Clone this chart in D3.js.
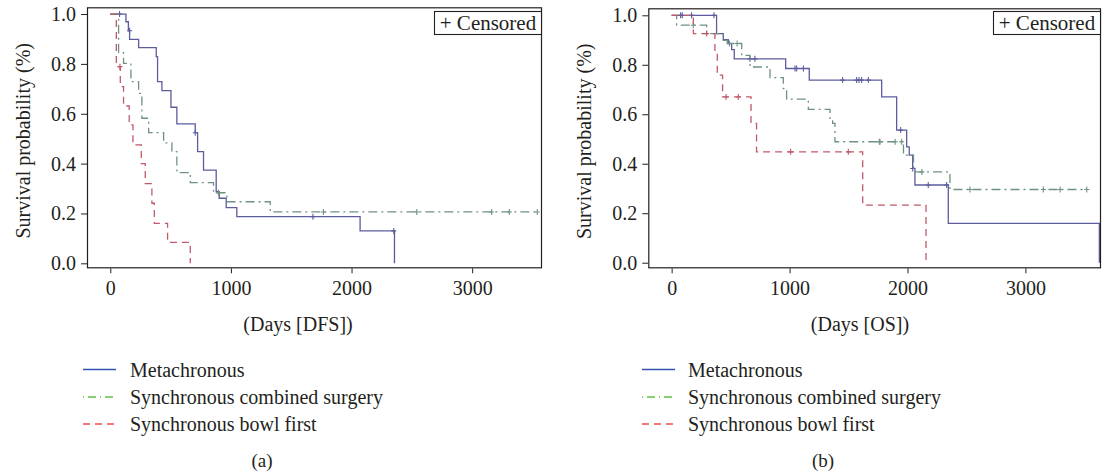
<!DOCTYPE html>
<html><head><meta charset="utf-8">
<script src="https://cdn.jsdelivr.net/npm/d3@7"></script>
<style>
body{margin:0;background:#fff}
svg{display:block}
text{font-family:"Liberation Serif","DejaVu Serif",serif;fill:#231f20}
</style>
</head><body><svg id="c" width="1102" height="475"></svg>
<script>
// ---------- data ----------
const seriesNames = ["Metachronous", "Synchronous combined surgery", "Synchronous bowl first"];
const xTickValues = [0, 1000, 2000, 3000];
const yTickValues = [0.0, 0.2, 0.4, 0.6, 0.8, 1.0];
const panelLabels = ["(a)", "(b)"];
const xTitles = ["(Days [DFS])", "(Days [OS])"];
const yTitle = "Survival probability (%)";
const censorLabel = "+ Censored";

// DFS (panel a): step points [day, survival after that day]
const dfsMeta = [[0,1],[130,0.969],[150,0.933],[160,0.898],[235,0.865],[381,0.829],[392,0.729],[428,0.693],[503,0.626],[552,0.559],[704,0.524],[724,0.448],[773,0.374],[878,0.287],[903,0.261],[961,0.223],[1049,0.187],[2071,0.130],[2356,0.0]];
const dfsMetaCens = [[77,1.0],[160,0.933],[704,0.524],[1680,0.187],[2350,0.130]];
const dfsComb = [[0,1],[69,0.845],[110,0.802],[171,0.729],[235,0.682],[262,0.582],[318,0.524],[442,0.483],[511,0.448],[552,0.364],[663,0.324],[856,0.283],[967,0.247],[1326,0.206],[3540,0.206]];
const dfsCombCens = [[897,0.283],[1767,0.206],[2541,0.206],[3162,0.206],[3308,0.206],[3540,0.206]];
const dfsBowl = [[0,1],[50,0.789],[83,0.709],[110,0.631],[157,0.555],[188,0.475],[257,0.400],[290,0.320],[345,0.241],[365,0.160],[475,0.084],[663,0.0]];
const dfsBowlCens = [[80,0.789]];

// OS (panel b)
const osMeta = [[0,1],[381,0.926],[438,0.902],[480,0.886],[509,0.861],[531,0.824],[967,0.785],[1167,0.738],[1781,0.670],[1908,0.536],[1993,0.468],[2015,0.435],[2044,0.381],[2063,0.314],[2346,0.159],[3627,0.0]];
const osMetaCens = [[76,1],[90,1],[169,1],[359,1],[664,0.824],[706,0.824],[1046,0.785],[1060,0.785],[1117,0.785],[1450,0.738],[1569,0.738],[1589,0.738],[1611,0.738],[1668,0.738],[1942,0.536],[2044,0.381],[2176,0.314],[2332,0.314]];
const osComb = [[0,1],[42,0.960],[297,0.926],[438,0.899],[472,0.886],[594,0.838],[664,0.791],[834,0.748],[947,0.704],[975,0.661],[1159,0.620],[1343,0.583],[1365,0.563],[1385,0.489],[1966,0.435],[2051,0.367],[2360,0.296],[3520,0.296]];
const osCombCens = [[183,0.960],[490,0.886],[555,0.886],[1761,0.489],[1767,0.489],[1895,0.489],[1951,0.489],[2122,0.367],[2530,0.296],[3152,0.296],[3294,0.296],[3520,0.296]];
const osBowl = [[0,1],[184,0.926],[367,0.845],[387,0.758],[432,0.670],[673,0.563],[720,0.448],[1620,0.233],[2157,0.0]];
const osBowlCens = [[297,0.926],[461,0.670],[565,0.670],[1009,0.448],[1498,0.448]];

// ---------- styles ----------
const plotColors = ["#5c5c9e", "#6f9183", "#c05a6a"];
const legendColors = ["#3553b5", "#5cc043", "#ee4b4b"];
const dashes = [null, "9,4,2,4", "7,5"];

const panels = [
  {frame:{x0:87,x1:542,y0:7.3,y1:268.3}, xDom:[-193,3579], yDom:[-0.02,1.027],
   curves:[[dfsMeta,dfsMetaCens],[dfsComb,dfsCombCens],[dfsBowl,dfsBowlCens]],
   xTitleX:298, yTitleX:24, legLine:[83,116], legText:130, labelX:262},
  {frame:{x0:648.3,x1:1101,y0:8.3,y1:268.3}, xDom:[-198,3641], yDom:[-0.0226,1.0283],
   curves:[[osMeta,osMetaCens],[osComb,osCombCens],[osBowl,osBowlCens]],
   xTitleX:860, yTitleX:585, legLine:[642,675], legText:688, labelX:823}
];

const svg = d3.select("#c");
const fs = 20;

panels.forEach((p, pi) => {
  const f = p.frame;
  const x = d3.scaleLinear().domain(p.xDom).range([f.x0, f.x1]);
  const y = d3.scaleLinear().domain(p.yDom).range([f.y1, f.y0]);
  const g = svg.append("g");

  // curves
  const line = d3.line().x(d => x(d[0])).y(d => y(d[1])).curve(d3.curveStepAfter);
  p.curves.forEach((c, ci) => {
    g.append("path").attr("d", line(c[0])).attr("fill", "none")
      .attr("stroke", plotColors[ci]).attr("stroke-width", 1.3)
      .attr("stroke-dasharray", dashes[ci]);
    g.selectAll(null).data(c[1]).enter().append("path")
      .attr("d", d => `M${x(d[0])-2.5},${y(d[1])}h5M${x(d[0])},${y(d[1])-3}v6`)
      .attr("stroke", plotColors[ci]).attr("stroke-width", 1.1).attr("fill", "none");
  });

  // frame
  g.append("rect").attr("x", f.x0+0.5).attr("y", f.y0+0.5)
    .attr("width", f.x1-f.x0-1).attr("height", f.y1-f.y0-1)
    .attr("fill", "none").attr("stroke", "#231f20").attr("stroke-width", 1.2);

  // axes
  const xAxis = d3.axisBottom(x).tickValues(xTickValues).tickSize(5).tickSizeOuter(0).tickPadding(8).tickFormat(d3.format("d"));
  const gx = g.append("g").attr("transform", `translate(0,${f.y1})`).call(xAxis);
  gx.select(".domain").remove();
  gx.selectAll("line").attr("stroke", "#231f20");
  gx.selectAll("text").attr("font-size", fs).attr("font-family", "Liberation Serif").attr("fill", "#231f20");

  const yAxis = d3.axisLeft(y).tickValues(yTickValues).tickSize(6).tickPadding(5).tickFormat(d3.format(".1f"));
  const gy = g.append("g").attr("transform", `translate(${f.x0},0)`).call(yAxis);
  gy.select(".domain").remove();
  gy.selectAll("line").attr("stroke", "#231f20");
  gy.selectAll("text").attr("font-size", fs).attr("font-family", "Liberation Serif").attr("fill", "#231f20");

  // censored box
  const bw = 107, bh = 23;
  g.append("rect").attr("x", f.x1 - bw - 0.5).attr("y", 11.5).attr("width", bw).attr("height", bh)
    .attr("fill", "#fff").attr("stroke", "#231f20").attr("stroke-width", 1.1);
  g.append("text").attr("x", f.x1 - bw/2 - 0.5).attr("y", 30).attr("text-anchor", "middle")
    .attr("font-size", 21).text(censorLabel);

  // titles
  g.append("text").attr("x", p.xTitleX).attr("y", 331).attr("text-anchor", "middle")
    .attr("font-size", fs).text(xTitles[pi]);
  g.append("text").attr("transform", `translate(${p.yTitleX + 6},${(f.y0+f.y1)/2 + 3}) rotate(-90)`)
    .attr("text-anchor", "middle").attr("font-size", fs).text(yTitle);

  // legend
  const rows = [369.5, 397, 424];
  seriesNames.forEach((n, i) => {
    g.append("line").attr("x1", p.legLine[0]).attr("x2", p.legLine[1])
      .attr("y1", rows[i]).attr("y2", rows[i])
      .attr("stroke", legendColors[i]).attr("stroke-width", 1.3)
      .attr("stroke-dasharray", i === 1 ? "1,4,8,4" : (i === 2 ? "7,5" : null));
    g.append("text").attr("x", p.legText).attr("y", rows[i] + 7).attr("font-size", fs).text(n);
  });

  g.append("text").attr("x", p.labelX).attr("y", 467).attr("text-anchor", "middle")
    .attr("font-size", 19).text(panelLabels[pi]);
});
</script>
</body></html>
